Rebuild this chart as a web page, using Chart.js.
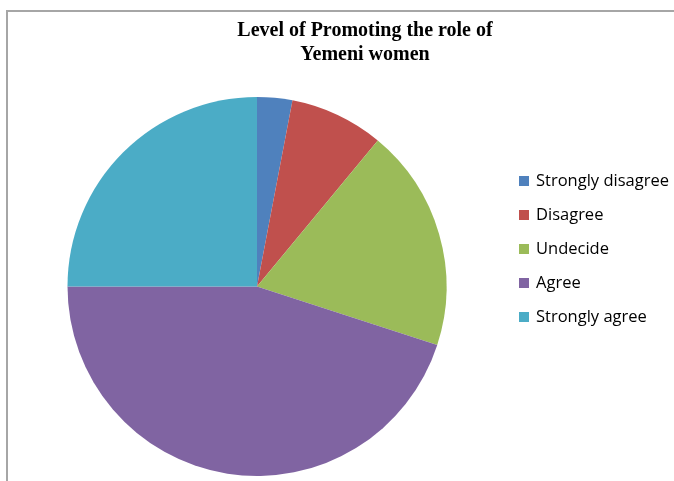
<!DOCTYPE html>
<html>
<head>
<meta charset="utf-8">
<script src="https://cdn.jsdelivr.net/npm/chart.js@4/dist/chart.umd.min.js"></script>
<style>
  html, body { margin: 0; padding: 0; background: #fff; }
  #wrap { width: 674px; height: 481px; position: relative; }
</style>
</head>
<body>
<div id="wrap"><canvas id="pie"></canvas></div>
<script>
// ── Data ──────────────────────────────────────────────────────
const titleLines = ['Level of Promoting the role of', 'Yemeni women'];
const categories = ['Strongly disagree', 'Disagree', 'Undecide', 'Agree', 'Strongly agree'];
const values     = [3, 8, 19, 45, 25];
const colors     = ['#4F81BD', '#C0504D', '#9BBB59', '#8064A2', '#4BACC6'];

// ── Frame, title and legend drawn on the canvas ───────────────
const decorations = {
  id: 'decorations',
  beforeDraw(chart) {
    const ctx = chart.ctx;
    ctx.save();
    ctx.strokeStyle = '#a6a6a6';
    ctx.lineWidth = 2;
    ctx.beginPath();
    ctx.moveTo(7, 481);
    ctx.lineTo(7, 11);
    ctx.lineTo(674, 11);
    ctx.stroke();
    ctx.restore();
  },
  afterDraw(chart) {
    const ctx = chart.ctx;
    ctx.save();
    ctx.fillStyle = '#000';
    ctx.font = "bold 20px 'Liberation Serif', serif";
    ctx.textAlign = 'center';
    ctx.textBaseline = 'middle';
    titleLines.forEach((t, i) => ctx.fillText(t, 365, 31 + i * 24));

    ctx.font = "16.5px 'Open Sans', sans-serif";
    ctx.textAlign = 'left';
    categories.forEach((c, i) => {
      const y = 181 + i * 34;
      ctx.fillStyle = colors[i];
      ctx.fillRect(519, y - 5, 10, 10);
      ctx.fillStyle = '#000';
      ctx.fillText(c, 536, y);
    });
    ctx.restore();
  }
};

new Chart(document.getElementById('pie'), {
  type: 'pie',
  data: {
    labels: categories,
    datasets: [{
      data:            values,
      backgroundColor: colors,
      borderWidth:     0
    }]
  },
  options: {
    responsive:          true,
    maintainAspectRatio: false,
    animation:           false,
    layout: { padding: { left: 67, right: 227, top: 97, bottom: 5 } },
    plugins: {
      legend:  { display: false },
      title:   { display: false },
      tooltip: { enabled: false }
    }
  },
  plugins: [decorations]
});
</script>
</body>
</html>
